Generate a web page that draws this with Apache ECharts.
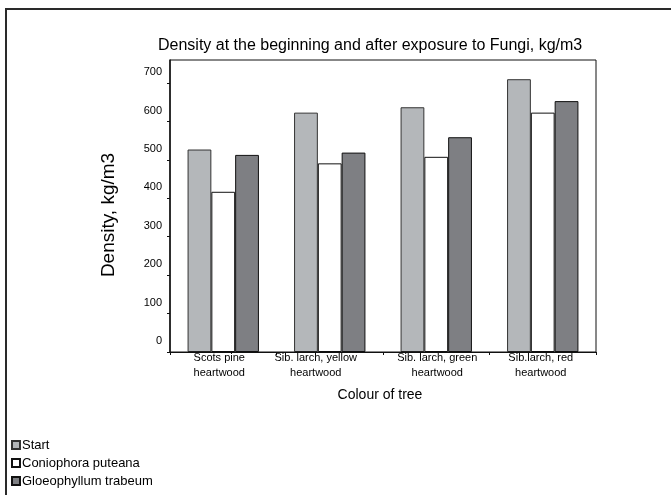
<!DOCTYPE html>
<html>
<head>
<meta charset="utf-8">
<script src="https://cdn.jsdelivr.net/npm/echarts@6/dist/echarts.min.js"></script>
<style>
  html, body { margin: 0; padding: 0; background: #fff; }
  #chart { width: 671px; height: 495px; }
</style>
</head>
<body>
<div id="chart"></div>
<script>
const categories = ['Scots pine\nheartwood', 'Sib. larch, yellow\nheartwood', 'Sib. larch, green\nheartwood', 'Sib.larch, red\nheartwood']
const startValues = [527, 623, 637, 710]
const coniophoraValues = [417, 491, 508, 623]
const gloeophyllumValues = [513, 519, 559, 653]

const myChart = echarts.init(document.getElementById('chart'))
const font = 'Liberation Sans, Arial, sans-serif'

// Excel puts the category labels a little off centre
const labelShift = [-4, -14, 1, -2]
const labelRich = {}
labelShift.forEach((s, i) => {
  labelRich['c' + i] = {
    fontSize: 11,
    lineHeight: 15,
    color: '#000',
    fontFamily: font,
    padding: s < 0 ? [0, -2 * s, 0, 0] : [0, 0, 0, 2 * s]
  }
})

myChart.setOption({
  animation: false,
  textStyle: { fontFamily: font },
  title: {
    text: 'Density at the beginning and after exposure to Fungi, kg/m3',
    left: 158,
    top: 38,
    padding: 0,
    textStyle: { fontSize: 16, fontWeight: 'normal', color: '#000', fontFamily: font }
  },
  legend: {
    orient: 'vertical',
    left: 11,
    top: 436,
    padding: 0,
    itemWidth: 8,
    itemHeight: 8,
    itemGap: 0,
    icon: 'rect',
    textStyle: { fontSize: 13, lineHeight: 18, color: '#000', padding: [0, 0, 0, -3] },
    data: ['Start', 'Coniophora puteana', 'Gloeophyllum trabeum']
  },
  grid: {
    left: 170,
    top: 60,
    width: 426,
    height: 292
  },
  graphic: [{
    type: 'rect',
    shape: { x: 6, y: 9, width: 700, height: 520 },
    style: { fill: 'none', stroke: '#2a2a2a', lineWidth: 2 },
    silent: true
  }, {
    type: 'rect',
    shape: { x: 170, y: 60, width: 426, height: 292 },
    style: { fill: 'none', stroke: '#111', lineWidth: 1 },
    silent: true,
    z: 10
  }],
  xAxis: {
    type: 'category',
    data: categories,
    name: 'Colour of tree',
    nameLocation: 'middle',
    nameGap: 36,
    nameTextStyle: { fontSize: 14, color: '#000', padding: [0, 6, 0, 0] },
    axisLine: { lineStyle: { color: '#111', width: 1 } },
    axisTick: { show: true, length: 3, lineStyle: { color: '#111' } },
    axisLabel: {
      interval: 0,
      margin: -2,
      formatter: (value, index) => value.split('\n').map(l => '{c' + index + '|' + l + '}').join('\n'),
      rich: labelRich
    }
  },
  yAxis: {
    type: 'value',
    min: 0,
    max: 760,
    interval: 100,
    name: 'Density, kg/m3',
    nameLocation: 'middle',
    nameGap: 52,
    nameTextStyle: { fontSize: 19, color: '#000', padding: [0, 18, 0, 0] },
    splitLine: { show: false },
    axisLine: { show: true, lineStyle: { color: '#111', width: 1.5 } },
    axisTick: { show: true, length: 3, lineStyle: { color: '#111' } },
    axisLabel: { fontSize: 11, color: '#000', margin: 8, verticalAlign: 'bottom', lineHeight: 22, showMaxLabel: false }
  },
  series: [{
    name: 'Start',
    type: 'bar',
    barGap: 0,
    barCategoryGap: '33%',
    itemStyle: { color: '#b4b7ba', borderColor: '#333', borderWidth: 1 },
    data: startValues
  }, {
    name: 'Coniophora puteana',
    type: 'bar',
    barGap: 0,
    barCategoryGap: '33%',
    itemStyle: { color: '#ffffff', borderColor: '#111', borderWidth: 1 },
    data: coniophoraValues
  }, {
    name: 'Gloeophyllum trabeum',
    type: 'bar',
    barGap: 0,
    barCategoryGap: '33%',
    itemStyle: { color: '#7e7f83', borderColor: '#111', borderWidth: 1 },
    data: gloeophyllumValues
  }]
})
</script>
</body>
</html>
